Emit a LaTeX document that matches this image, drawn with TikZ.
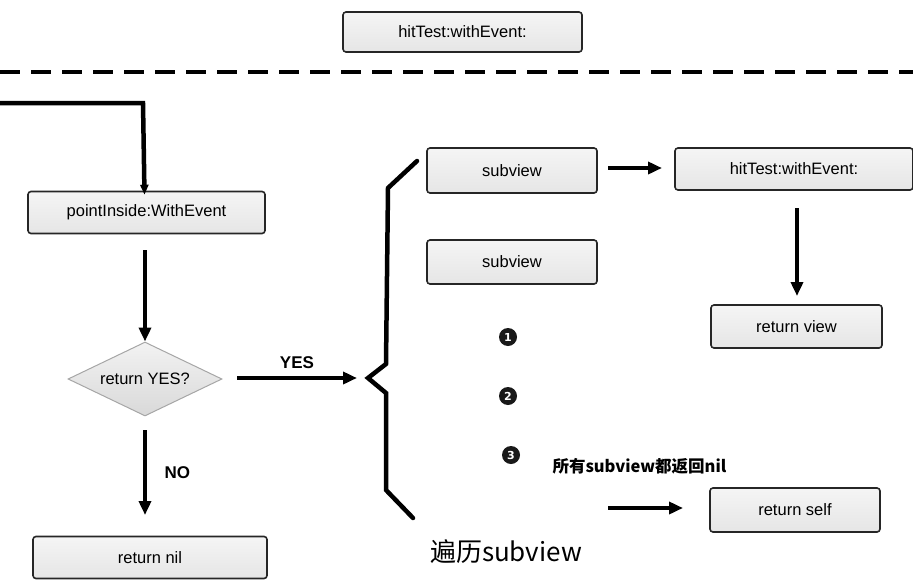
\documentclass[tikz,border=0pt]{standalone}
\usepackage{fontspec}
\setmainfont{Liberation Sans}
\newfontfamily\cjk{Noto Sans CJK SC}
\newfontfamily\dingfont{DejaVu Sans}
\usetikzlibrary{arrows.meta,shapes.geometric}
\begin{document}
\begin{tikzpicture}[x=1pt,y=-1pt,
  box/.style={draw=black!85,line width=1.6pt,rounded corners=3pt,
    top color=gray!8,bottom color=gray!20,font=\fontsize{16.5}{18}\selectfont,
    minimum height=42pt,inner sep=0pt},
  flow/.style={line width=4.5pt,-{Triangle[length=14pt,width=12pt]}},
  bracket/.style={line width=4.5pt,line cap=round,line join=miter},
  lbl/.style={font=\fontsize{17}{19}\selectfont\bfseries},
  dot/.style={circle,fill=black!90,minimum size=18pt,inner sep=0pt,
    text=white,font=\dingfont\fontsize{11}{11}\selectfont\bfseries}]
\useasboundingbox (0,0) rectangle (913,581);

% header call and separator
\node[box,minimum width=239pt,minimum height=40pt] (top) at (462.5,32) {hitTest:withEvent:};
\draw[line width=4.5pt,dash pattern=on 20pt off 11pt] (0,72) -- (913,72);

% left column: pointInside test
\coordinate (entry) at (0,103);
\coordinate (bend) at (143,103);
\node[box,minimum width=237pt] (inside) at (146.5,212.5) {pointInside:WithEvent};
\node[diamond,draw=gray!70,line width=1pt,top color=gray!10,bottom color=gray!30,aspect=2.1,inner sep=1pt,
  minimum width=154pt,minimum height=74pt,font=\fontsize{16.5}{18}\selectfont] (test) at (145,379) {return YES?};
\node[box,minimum width=234pt] (nil) at (150,557.5) {return nil};

\draw[bracket,-{Triangle[length=10pt,width=8pt]}] (entry) -- (bend) -- ([xshift=-2pt,yshift=-4pt]inside.north);
\draw[flow] (145,250) -- (test.north);
\draw[flow] (237,378) -- node[lbl,above=4pt] {YES} (357,378);
\draw[flow] (145,430) -- node[lbl,right=14pt] {NO} (145,515);

% bracket gathering the subviews
\coordinate (tip) at (368,378);
\draw[bracket] (417,161) -- (388,188) -- (386,364) -- (tip) -- (386,393) -- (386,490) -- (413,518);

% subviews
\node[box,minimum width=170pt,minimum height=45pt] (sv1) at (512,170.5) {subview};
\node[box,minimum width=170pt,minimum height=44pt] (sv2) at (512,262) {subview};
\node[dot] (d1) at (508,337) {1};
\node[dot] (d2) at (508,396) {2};
\node[dot] (d3) at (511,455) {3};

% right column
\node[box,minimum width=238pt] (hit) at (794,169) {hitTest:withEvent:};
\node[box,minimum width=171pt,minimum height=43pt] (rview) at (796.5,326.5) {return view};
\node[box,minimum width=170pt,minimum height=44pt] (rself) at (795,510) {return self};

\draw[flow] (608,168) -- (662,168);
\draw[flow] (797,208) -- (797,296);
\draw[flow] (608,508) -- (683,508);

\node[font=\cjk\bfseries\fontsize{16.5}{19}\selectfont,anchor=west] (allnil) at (549,466) {所有subview都返回nil};
\node[font=\cjk\fontsize{26}{30}\selectfont] (walk) at (506,552) {遍历subview};
\end{tikzpicture}
\end{document}
